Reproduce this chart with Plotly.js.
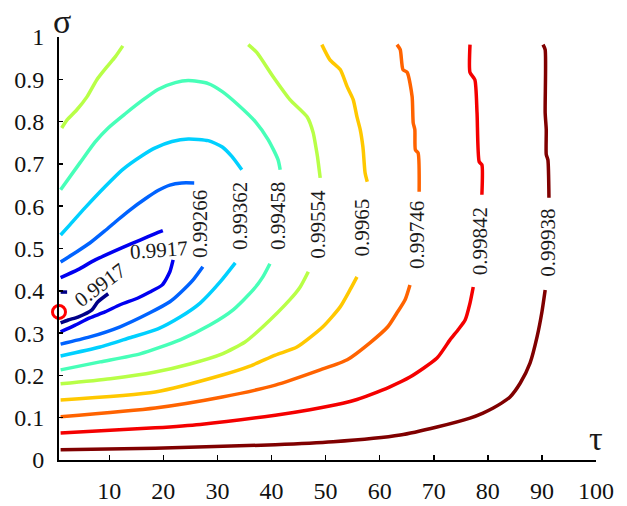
<!DOCTYPE html>
<html>
<head>
<meta charset="utf-8">
<script src="https://cdn.plot.ly/plotly-3.0.1.min.js"></script>
<style>html,body{margin:0;padding:0;background:#fff;}#chart{width:627px;height:506px;}</style>
</head>
<body>
<div id="chart"></div>
<script>
// Tick values
const xTicks = [10, 20, 30, 40, 50, 60, 70, 80, 90, 100];
const yTicks = [0, 0.1, 0.2, 0.3, 0.4, 0.5, 0.6, 0.7, 0.8, 0.9, 1];

// Contour levels, labels and colours (jet)
const levelLabels = ["0.9917", "0.9917", "0.99266", "0.99362", "0.99458", "0.99554", "0.9965", "0.99746", "0.99842", "0.99938"];
const levelColors = ["#000088", "#0000f0", "#0063ff", "#00d0ff", "#47ffb8", "#b8ff47", "#ffc800", "#ff6300", "#f40000", "#800000"];

// Label positions (tau, sigma, angle)
const labelTau   = [8.3, 19.2, 26.8, 34.2, 41.2, 48.6, 56.7, 66.9, 78.6, 91.1];
const labelSigma = [0.414, 0.497, 0.558, 0.577, 0.577, 0.556, 0.549, 0.532, 0.518, 0.513];
const labelAngle = [-37, -4, -90, -90, -90, -90, -90, -90, -90, -90];

// Contour segments (tau, sigma)
const navyA_t = [1, 2.2];                       const navyA_s = [0.397, 0.397];
const navyB_t = [1, 2.4, 4.2, 6.8, 7.9, 9.8];   const navyB_s = [0.324, 0.331, 0.338, 0.355, 0.374, 0.393];

const blueA_t = [1, 4.2, 7.4, 12.4, 15.7, 18.5, 19.9];
const blueA_s = [0.431, 0.450, 0.473, 0.502, 0.520, 0.535, 0.542];
const blueB_t = [21.8, 21.2, 19.8, 17.5, 15.3, 12.0, 9.2, 6.4, 3.7, 1];
const blueB_s = [0.473, 0.445, 0.414, 0.397, 0.383, 0.367, 0.350, 0.336, 0.319, 0.303];

const lblueA_t = [1, 3.7, 6.4, 9.2, 11.6, 13.8, 16.6, 19.0, 21.2, 23.4, 25.7];
const lblueA_s = [0.468, 0.490, 0.513, 0.542, 0.568, 0.591, 0.617, 0.637, 0.650, 0.655, 0.655];
const lblueB_t = [27.3, 25.5, 23.1, 21.2, 17.5, 12.0, 6.4, 1];
const lblueB_s = [0.457, 0.426, 0.395, 0.374, 0.348, 0.315, 0.291, 0.274];

const cyanA_t = [1, 2.7, 5.5, 9.2, 12.4, 16.1, 18.5, 21.6, 24.6, 28.3, 30.9, 32.7, 34.5];
const cyanA_s = [0.532, 0.556, 0.596, 0.646, 0.686, 0.720, 0.738, 0.753, 0.759, 0.755, 0.740, 0.717, 0.686];
const cyanB_t = [33.3, 30.5, 26.8, 23.1, 19.0, 13.8, 8.3, 1];
const cyanB_s = [0.466, 0.421, 0.371, 0.338, 0.310, 0.289, 0.267, 0.246];

const greenA_t = [1, 4.6, 7.4, 9.8, 12.9, 16.1, 19.0, 22.2, 24.6, 28.3, 30.9, 33.8, 37.0, 39.4, 41.2, 41.6];
const greenA_s = [0.639, 0.703, 0.752, 0.785, 0.818, 0.850, 0.876, 0.892, 0.897, 0.890, 0.871, 0.840, 0.800, 0.757, 0.710, 0.686];
const greenB_t = [39.7, 38.4, 36.6, 32.9, 28.6, 23.1, 15.7, 8.3, 1];
const greenB_s = [0.464, 0.433, 0.402, 0.355, 0.319, 0.284, 0.251, 0.232, 0.213];

const ygA_t = [1.2, 2.2, 4.0, 5.9, 7.7, 9.6, 11.1, 12.5];
const ygA_s = [0.785, 0.804, 0.828, 0.859, 0.899, 0.930, 0.953, 0.979];
const ygB_t = [35.7, 37.3, 40.3, 43.4, 46.6, 47.7, 48.2, 48.5, 49.0];
const ygB_s = [0.982, 0.963, 0.906, 0.852, 0.811, 0.774, 0.740, 0.717, 0.667];
const ygC_t = [46.8, 45.3, 43.4, 38.4, 35.1, 30.9, 24.9, 18.5, 10.2, 1];
const ygC_s = [0.445, 0.409, 0.379, 0.315, 0.279, 0.251, 0.227, 0.208, 0.192, 0.180];

const yelA_t = [49.3, 50.8, 52.7, 54.0, 55.1, 55.8, 56.4, 56.9, 57.0, 57.3, 57.7];
const yelA_s = [0.982, 0.946, 0.923, 0.882, 0.852, 0.811, 0.781, 0.740, 0.726, 0.679, 0.658];
const yelB_t = [55.8, 54.5, 52.7, 49.5, 44.7, 40.7, 36.0, 30.9, 18.5, 1];
const yelB_s = [0.433, 0.402, 0.362, 0.315, 0.267, 0.248, 0.222, 0.201, 0.161, 0.142];

const orA_t = [63.2, 63.8, 64.3, 65.1, 66.0, 66.2, 66.5, 66.6, 67.1, 67.3];
const orA_s = [0.982, 0.970, 0.923, 0.916, 0.859, 0.797, 0.781, 0.733, 0.726, 0.634];
const orB_t = [65.6, 64.7, 63.2, 61.5, 58.2, 54.0, 49.0, 40.7, 30.9, 18.5, 1];
const orB_s = [0.414, 0.379, 0.348, 0.315, 0.277, 0.237, 0.213, 0.177, 0.149, 0.123, 0.102];

const redA_t = [76.7, 76.7, 77.6, 78.0, 78.4, 78.9, 78.9];
const redA_s = [0.982, 0.916, 0.899, 0.821, 0.705, 0.698, 0.627];
const redB_t = [77.3, 76.7, 75.8, 74.5, 73.0, 70.6, 65.6, 61.9, 58.2, 55.8, 53.2, 47.1, 40.7, 26.8, 18.5, 1];
const redB_s = [0.409, 0.371, 0.331, 0.308, 0.284, 0.241, 0.196, 0.173, 0.154, 0.143, 0.134, 0.119, 0.106, 0.084, 0.076, 0.064];

const drA_t = [90.2, 90.6, 90.6, 90.8, 90.8, 91.1, 91.3];
const drA_s = [0.982, 0.970, 0.821, 0.781, 0.722, 0.710, 0.620];
const drB_t = [90.6, 90.0, 89.1, 87.8, 86.0, 84.1, 82.6, 81.0, 79.1, 76.7, 70.6, 63.8, 51.4, 40.7, 18.5, 1];
const drB_s = [0.402, 0.350, 0.291, 0.229, 0.182, 0.149, 0.135, 0.123, 0.111, 0.099, 0.078, 0.059, 0.043, 0.036, 0.028, 0.024];

// Marked point
const pointTau = [0.7];
const pointSigma = [0.35];

const segments = [
  [navyA_t, navyA_s, 0], [navyB_t, navyB_s, 0],
  [blueA_t, blueA_s, 1], [blueB_t, blueB_s, 1],
  [lblueA_t, lblueA_s, 2], [lblueB_t, lblueB_s, 2],
  [cyanA_t, cyanA_s, 3], [cyanB_t, cyanB_s, 3],
  [greenA_t, greenA_s, 4], [greenB_t, greenB_s, 4],
  [ygA_t, ygA_s, 5], [ygB_t, ygB_s, 5], [ygC_t, ygC_s, 5],
  [yelA_t, yelA_s, 6], [yelB_t, yelB_s, 6],
  [orA_t, orA_s, 7], [orB_t, orB_s, 7],
  [redA_t, redA_s, 8], [redB_t, redB_s, 8],
  [drA_t, drA_s, 9], [drB_t, drB_s, 9]
];

const serif = "Liberation Serif";

const traces = segments.map(([t, s, k]) => ({
  type: "scatter", mode: "lines", x: t, y: s,
  line: {color: levelColors[k], width: 3.5, shape: "spline", smoothing: 0.6},
  hoverinfo: "skip", showlegend: false
}));

traces.push({
  type: "scatter", mode: "markers", x: pointTau, y: pointSigma,
  marker: {symbol: "circle-open", size: 13, color: "#ff0000", line: {width: 3, color: "#ff0000"}},
  cliponaxis: false, showlegend: false, hoverinfo: "skip"
});

const annotations = levelLabels.map((txt, i) => ({
  x: labelTau[i], y: labelSigma[i], xref: "x", yref: "y",
  text: txt, showarrow: false, textangle: labelAngle[i],
  font: {family: serif, size: 21, color: "#1a1a1a"},
  xanchor: "center", yanchor: "middle"
}));

annotations.push({
  x: 0, y: 1, xref: "paper", yref: "paper", text: "σ", showarrow: false,
  font: {family: serif, size: 34, color: "#1a1a1a"}, xanchor: "center", yanchor: "middle", xshift: 3, yshift: 16
});
annotations.push({
  x: 1, y: 0, xref: "paper", yref: "paper", text: "τ", showarrow: false,
  font: {family: serif, size: 34, color: "#1a1a1a"}, xanchor: "center", yanchor: "middle", yshift: 22
});

const layout = {
  width: 627, height: 506,
  margin: {l: 59, r: 31, t: 37, b: 46},
  paper_bgcolor: "#fff", plot_bgcolor: "#fff",
  showlegend: false,
  font: {family: serif},
  xaxis: {
    range: [0.7, 100], tickvals: xTicks, ticktext: xTicks.map(String),
    ticks: "inside", ticklen: 5, tickwidth: 1.5, tickcolor: "#000",
    showline: true, linecolor: "#000", linewidth: 2,
    showgrid: false, zeroline: false,
    tickfont: {family: serif, size: 24, color: "#111"},
    ticklabelstandoff: 8
  },
  yaxis: {
    range: [0, 1], tickvals: yTicks, ticktext: yTicks.map(String),
    ticks: "inside", ticklen: 4, tickwidth: 1.5, tickcolor: "#000",
    showline: true, linecolor: "#000", linewidth: 2,
    showgrid: false, zeroline: false,
    tickfont: {family: serif, size: 24, color: "#111"},
    ticklabelstandoff: 8
  },
  annotations: annotations
};

Plotly.newPlot("chart", traces, layout, {staticPlot: true, displayModeBar: false});
</script>
</body>
</html>
